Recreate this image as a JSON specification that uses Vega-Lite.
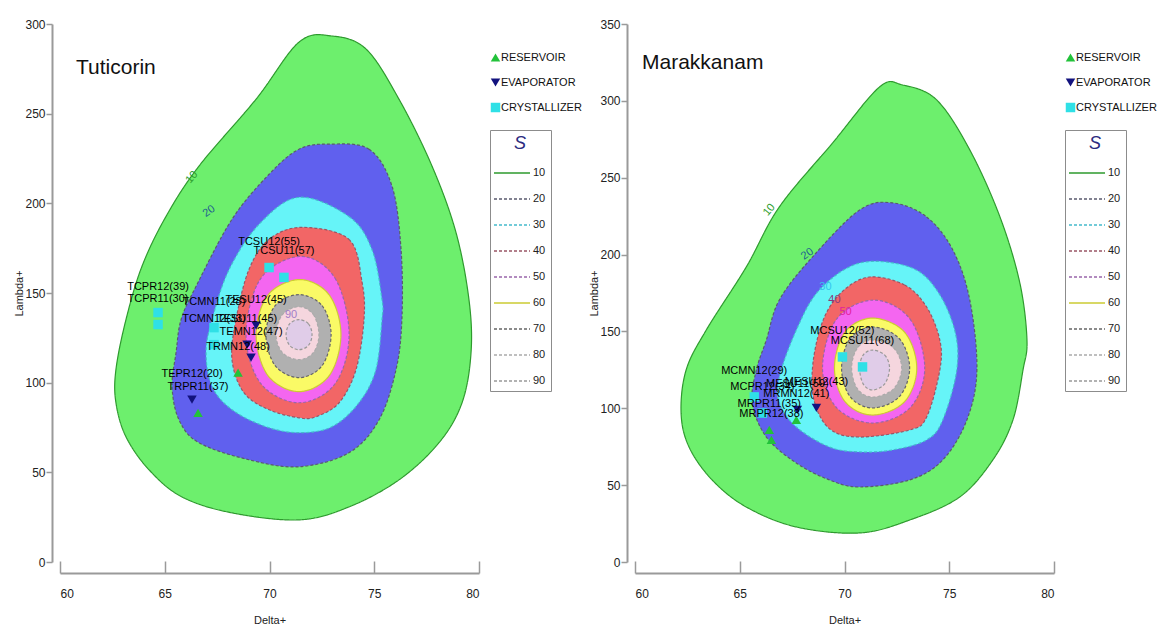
{
  "$schema": "https://vega.github.io/schema/vega-lite/v6.json",
  "padding": {"left": 13, "top": 18, "right": 0, "bottom": 0},
  "background": "white",
  "bounds": "flush",
  "spacing": 156,
  "resolve": {"scale": {"stroke": "independent", "strokeDash": "independent", "fill": "independent", "shape": "independent", "color": "independent"}},
  "config": {
    "view": {"stroke": null},
    "font": "Liberation Sans, Arial, sans-serif",
    "axis": {
      "grid": false,
      "domainColor": "#9a9a9a",
      "tickColor": "#9a9a9a",
      "domainWidth": 2,
      "tickWidth": 1.5,
      "labelFontSize": 12,
      "labelColor": "#222222",
      "titleFontSize": 11,
      "titleFontWeight": "normal",
      "titleColor": "#222222"
    },
    "legend": {"labelFont": "Liberation Sans, Arial, sans-serif"}
  },
  "datasets": {
    "tc": [
      {"level":10,"i":0,"x":72.98,"y":293.3},{"level":10,"i":1,"x":74.61,"y":286},{"level":10,"i":2,"x":76.18,"y":258.1},{"level":10,"i":3,"x":77.76,"y":220.7},{"level":10,"i":4,"x":78.90,"y":183.8},{"level":10,"i":5,"x":79.52,"y":146.4},{"level":10,"i":6,"x":79.62,"y":116.8},{"level":10,"i":7,"x":79.19,"y":88.8},{"level":10,"i":8,"x":78.09,"y":66.5},{"level":10,"i":9,"x":76.18,"y":45.8},{"level":10,"i":10,"x":73.79,"y":30.7},{"level":10,"i":11,"x":71.41,"y":23.5},{"level":10,"i":12,"x":68.21,"y":27.4},{"level":10,"i":13,"x":65.82,"y":36.3},{"level":10,"i":14,"x":64.25,"y":51.4},{"level":10,"i":15,"x":63.15,"y":69.8},{"level":10,"i":16,"x":62.67,"y":88.8},{"level":10,"i":17,"x":62.67,"y":107.3},{"level":10,"i":18,"x":63.15,"y":135.2},{"level":10,"i":19,"x":63.91,"y":164.8},{"level":10,"i":20,"x":65.06,"y":192.7},{"level":10,"i":21,"x":66.63,"y":220.7},{"level":10,"i":22,"x":69.36,"y":258.1},{"level":10,"i":23,"x":71.41,"y":289.9},
      {"level":20,"i":0,"x":72.84,"y":233.0},{"level":20,"i":1,"x":74.75,"y":230.2},{"level":20,"i":2,"x":75.85,"y":209.5},{"level":20,"i":3,"x":76.28,"y":174.3},{"level":20,"i":4,"x":76.32,"y":135.2},{"level":20,"i":5,"x":76.04,"y":107.3},{"level":20,"i":6,"x":75.23,"y":79.3},{"level":20,"i":7,"x":73.79,"y":60.9},{"level":20,"i":8,"x":71.41,"y":53.1},{"level":20,"i":9,"x":69.02,"y":57.0},{"level":20,"i":10,"x":66.63,"y":66.5},{"level":20,"i":11,"x":65.68,"y":79.3},{"level":20,"i":12,"x":65.35,"y":97.8},{"level":20,"i":13,"x":65.54,"y":116.8},{"level":20,"i":14,"x":65.78,"y":135.2},{"level":20,"i":15,"x":66.49,"y":153.6},{"level":20,"i":16,"x":68.21,"y":191.1},{"level":20,"i":17,"x":69.98,"y":216.2},{"level":20,"i":18,"x":71.41,"y":230.2},
      {"level":30,"i":0,"x":71.41,"y":203.4},{"level":30,"i":1,"x":73.79,"y":192.7},{"level":30,"i":2,"x":74.89,"y":174.3},{"level":30,"i":3,"x":75.37,"y":146.4},{"level":30,"i":4,"x":75.37,"y":135.2},{"level":30,"i":5,"x":75.08,"y":107.3},{"level":30,"i":6,"x":74.27,"y":88.8},{"level":30,"i":7,"x":72.98,"y":75.4},{"level":30,"i":8,"x":71.41,"y":72.1},{"level":30,"i":9,"x":69.83,"y":75.4},{"level":30,"i":10,"x":68.21,"y":84.9},{"level":30,"i":11,"x":67.26,"y":97.8},{"level":30,"i":12,"x":66.97,"y":116.8},{"level":30,"i":13,"x":67.26,"y":135.2},{"level":30,"i":14,"x":68.07,"y":163.1},{"level":30,"i":15,"x":69.50,"y":188.3},
      {"level":40,"i":0,"x":71.55,"y":186.6},{"level":40,"i":1,"x":73.79,"y":179.9},{"level":40,"i":2,"x":74.42,"y":155.9},{"level":40,"i":3,"x":74.51,"y":135.2},{"level":40,"i":4,"x":74.13,"y":107.3},{"level":40,"i":5,"x":73.32,"y":88.8},{"level":40,"i":6,"x":72.22,"y":81.0},{"level":40,"i":7,"x":71.41,"y":80.4},{"level":40,"i":8,"x":69.98,"y":84.9},{"level":40,"i":9,"x":68.78,"y":94.4},{"level":40,"i":10,"x":68.21,"y":112.8},{"level":40,"i":11,"x":68.40,"y":135.2},{"level":40,"i":12,"x":69.02,"y":163.1},{"level":40,"i":13,"x":69.98,"y":179.9},
      {"level":50,"i":0,"x":71.5,"y":170.4},{"level":50,"i":1,"x":73.13,"y":158.2},{"level":50,"i":2,"x":73.80,"y":126.8},{"level":50,"i":3,"x":73.13,"y":99.4},{"level":50,"i":4,"x":71.41,"y":88.8},{"level":50,"i":5,"x":69.59,"y":99.4},{"level":50,"i":6,"x":68.88,"y":126.8},{"level":50,"i":7,"x":69.59,"y":158.2},
      {"level":60,"i":0,"x":71.45,"y":157.5},{"level":60,"i":1,"x":72.85,"y":148.9},{"level":60,"i":2,"x":73.41,"y":126.8},{"level":60,"i":3,"x":72.85,"y":103.9},{"level":60,"i":4,"x":71.41,"y":95.0},{"level":60,"i":5,"x":69.93,"y":103.9},{"level":60,"i":6,"x":69.36,"y":126.8},{"level":60,"i":7,"x":69.93,"y":148.9},
      {"level":70,"i":0,"x":71.41,"y":149.1},{"level":70,"i":1,"x":72.51,"y":142.9},{"level":70,"i":2,"x":72.94,"y":126.8},{"level":70,"i":3,"x":72.51,"y":109.5},{"level":70,"i":4,"x":71.41,"y":102.8},{"level":70,"i":5,"x":70.27,"y":109.5},{"level":70,"i":6,"x":69.83,"y":126.8},{"level":70,"i":7,"x":70.27,"y":142.9},
      {"level":80,"i":0,"x":71.41,"y":142.4},{"level":80,"i":1,"x":72.09,"y":138.0},{"level":80,"i":2,"x":72.36,"y":126.8},{"level":80,"i":3,"x":72.09,"y":116.7},{"level":80,"i":4,"x":71.41,"y":112.8},{"level":80,"i":5,"x":70.62,"y":116.7},{"level":80,"i":6,"x":70.31,"y":126.8},{"level":80,"i":7,"x":70.62,"y":138.0},
      {"level":90,"i":0,"x":71.41,"y":135.2},{"level":90,"i":1,"x":71.86,"y":132.8},{"level":90,"i":2,"x":72.03,"y":126.8},{"level":90,"i":3,"x":71.86,"y":120.8},{"level":90,"i":4,"x":71.41,"y":118.4},{"level":90,"i":5,"x":70.96,"y":120.8},{"level":90,"i":6,"x":70.79,"y":126.8},{"level":90,"i":7,"x":70.96,"y":132.8}
    ],
    "mc": [
      {"level":10,"i":0,"x":72.78,"y":310.3},{"level":10,"i":1,"x":74.40,"y":300.6},{"level":10,"i":2,"x":75.98,"y":268.1},{"level":10,"i":3,"x":77.42,"y":224.5},{"level":10,"i":4,"x":78.37,"y":181.5},{"level":10,"i":5,"x":78.71,"y":144.4},{"level":10,"i":6,"x":78.52,"y":124.9},{"level":10,"i":7,"x":78.04,"y":92.4},{"level":10,"i":8,"x":77.08,"y":66.4},{"level":10,"i":9,"x":75.50,"y":42.3},{"level":10,"i":10,"x":73.11,"y":27.3},{"level":10,"i":11,"x":70.72,"y":18.9},{"level":10,"i":12,"x":67.70,"y":22.8},{"level":10,"i":13,"x":65.31,"y":35.8},{"level":10,"i":14,"x":63.68,"y":53.4},{"level":10,"i":15,"x":62.58,"y":74.8},{"level":10,"i":16,"x":62.20,"y":96.9},{"level":10,"i":17,"x":62.44,"y":124.9},{"level":10,"i":18,"x":63.40,"y":150.9},{"level":10,"i":19,"x":65.31,"y":191.9},{"level":10,"i":20,"x":66.89,"y":231.0},{"level":10,"i":21,"x":69.43,"y":272.6},{"level":10,"i":22,"x":71.67,"y":309.0},
      {"level":20,"i":0,"x":72.30,"y":233.6},{"level":20,"i":1,"x":73.92,"y":224.5},{"level":20,"i":2,"x":75.17,"y":203.0},{"level":20,"i":3,"x":75.98,"y":170.5},{"level":20,"i":4,"x":76.32,"y":124.9},{"level":20,"i":5,"x":75.84,"y":92.4},{"level":20,"i":6,"x":74.69,"y":66.4},{"level":20,"i":7,"x":73.11,"y":53.4},{"level":20,"i":8,"x":70.72,"y":48.8},{"level":20,"i":9,"x":69.28,"y":53.4},{"level":20,"i":10,"x":67.70,"y":64.4},{"level":20,"i":11,"x":66.27,"y":81.3},{"level":20,"i":12,"x":65.60,"y":103.4},{"level":20,"i":13,"x":65.79,"y":124.9},{"level":20,"i":14,"x":66.27,"y":144.4},{"level":20,"i":15,"x":66.89,"y":170.5},{"level":20,"i":16,"x":68.47,"y":198.4},{"level":20,"i":17,"x":70.72,"y":229.0},
      {"level":30,"i":0,"x":70.72,"y":194.5},{"level":30,"i":1,"x":73.11,"y":191.9},{"level":30,"i":2,"x":74.40,"y":177.0},{"level":30,"i":3,"x":75.26,"y":150.9},{"level":30,"i":4,"x":75.36,"y":124.9},{"level":30,"i":5,"x":74.69,"y":92.4},{"level":30,"i":6,"x":73.92,"y":79.4},{"level":30,"i":7,"x":72.30,"y":72.9},{"level":30,"i":8,"x":70.72,"y":71.6},{"level":30,"i":9,"x":69.28,"y":74.8},{"level":30,"i":10,"x":67.70,"y":87.8},{"level":30,"i":11,"x":66.89,"y":103.4},{"level":30,"i":12,"x":66.89,"y":120.4},{"level":30,"i":13,"x":67.70,"y":150.9},{"level":30,"i":14,"x":68.80,"y":177.0},
      {"level":40,"i":0,"x":71.20,"y":185.4},{"level":40,"i":1,"x":72.87,"y":180.2},{"level":40,"i":2,"x":73.92,"y":165.9},{"level":40,"i":3,"x":74.55,"y":144.4},{"level":40,"i":4,"x":74.55,"y":124.9},{"level":40,"i":5,"x":73.92,"y":94.3},{"level":40,"i":6,"x":73.11,"y":85.9},{"level":40,"i":7,"x":70.72,"y":81.3},{"level":40,"i":8,"x":69.3,"y":86.5},{"level":40,"i":9,"x":68.55,"y":105},{"level":40,"i":10,"x":68.5,"y":130},{"level":40,"i":11,"x":69.0,"y":158},{"level":40,"i":12,"x":69.9,"y":176},
      {"level":50,"i":0,"x":71.4,"y":170.4},{"level":50,"i":1,"x":73.13,"y":158.0},{"level":50,"i":2,"x":73.83,"y":126.2},{"level":50,"i":3,"x":73.13,"y":100.4},{"level":50,"i":4,"x":71.34,"y":90.4},{"level":50,"i":5,"x":69.62,"y":100.4},{"level":50,"i":6,"x":68.95,"y":126.2},{"level":50,"i":7,"x":69.62,"y":158.0},
      {"level":60,"i":0,"x":71.34,"y":158.7},{"level":60,"i":1,"x":72.86,"y":149.6},{"level":60,"i":2,"x":73.45,"y":126.2},{"level":60,"i":3,"x":72.86,"y":104.2},{"level":60,"i":4,"x":71.34,"y":95.6},{"level":60,"i":5,"x":70.03,"y":104.2},{"level":60,"i":6,"x":69.52,"y":126.2},{"level":60,"i":7,"x":70.03,"y":149.6},
      {"level":70,"i":0,"x":71.34,"y":152.9},{"level":70,"i":1,"x":72.61,"y":145.4},{"level":70,"i":2,"x":73.11,"y":126.2},{"level":70,"i":3,"x":72.61,"y":107.5},{"level":70,"i":4,"x":71.34,"y":100.2},{"level":70,"i":5,"x":70.27,"y":107.5},{"level":70,"i":6,"x":69.86,"y":126.2},{"level":70,"i":7,"x":70.27,"y":145.4},
      {"level":80,"i":0,"x":71.34,"y":144.4},{"level":80,"i":1,"x":72.34,"y":139.3},{"level":80,"i":2,"x":72.73,"y":126.2},{"level":80,"i":3,"x":72.34,"y":112.6},{"level":80,"i":4,"x":71.34,"y":107.3},{"level":80,"i":5,"x":70.62,"y":112.6},{"level":80,"i":6,"x":70.34,"y":126.2},{"level":80,"i":7,"x":70.62,"y":139.3},
      {"level":90,"i":0,"x":71.34,"y":137.9},{"level":90,"i":1,"x":71.92,"y":134.6},{"level":90,"i":2,"x":72.15,"y":126.2},{"level":90,"i":3,"x":71.92,"y":115.9},{"level":90,"i":4,"x":71.34,"y":111.9},{"level":90,"i":5,"x":70.89,"y":115.9},{"level":90,"i":6,"x":70.72,"y":126.2},{"level":90,"i":7,"x":70.89,"y":134.6}
    ],
    "tl": [
      {"lv":10,"t":"10","x":66.30,"y":214.5},{"lv":20,"t":"20","x":67.11,"y":195.5},{"lv":90,"t":"90","x":71.03,"y":138.0}
    ],
    "ml": [
      {"lv":10,"t":"10","x":66.41,"y":229.0},{"lv":20,"t":"20","x":68.23,"y":200.4},{"lv":30,"t":"30","x":69.09,"y":178.9},{"lv":40,"t":"40","x":69.52,"y":170.5},{"lv":50,"t":"50","x":70.05,"y":162.7}
    ],
    "tp": [
      {"type":"CRYSTALLIZER","label":"TCPR12(39)","x":64.68,"y":139.1},
      {"type":"CRYSTALLIZER","label":"TCPR11(30)","x":64.68,"y":132.4},
      {"type":"CRYSTALLIZER","label":"TCMN11(28)","x":67.35,"y":130.7},
      {"type":"CRYSTALLIZER","label":"TCMN12(33)","x":67.35,"y":121.2},
      {"type":"CRYSTALLIZER","label":"TCSU12(55)","x":69.98,"y":164.2},
      {"type":"CRYSTALLIZER","label":"TCSU11(57)","x":70.69,"y":158.7},
      {"type":"EVAPORATOR","label":"TEPR12(20)","x":66.30,"y":90.5},
      {"type":"EVAPORATOR","label":"TESU12(45)","x":69.36,"y":131.8},
      {"type":"EVAPORATOR","label":"TESU11(45)","x":68.93,"y":121.2},
      {"type":"EVAPORATOR","label":"TEMN12(47)","x":69.12,"y":114.0},
      {"type":"RESERVOIR","label":"TRPR11(37)","x":66.59,"y":83.2},
      {"type":"RESERVOIR","label":"TRMN12(48)","x":68.50,"y":105.6}
    ],
    "mp": [
      {"type":"CRYSTALLIZER","label":"MCMN12(29)","x":65.69,"y":107.4},
      {"type":"CRYSTALLIZER","label":"MCPR12(34)","x":66.08,"y":96.9},
      {"type":"CRYSTALLIZER","label":"MCSU12(52)","x":69.90,"y":133.4},
      {"type":"CRYSTALLIZER","label":"MCSU11(68)","x":70.86,"y":126.9},
      {"type":"EVAPORATOR","label":"MESU12(43)","x":68.66,"y":100.2},
      {"type":"EVAPORATOR","label":"MESU11(59)","x":67.75,"y":98.9},
      {"type":"RESERVOIR","label":"MRPR11(35)","x":66.41,"y":85.9},
      {"type":"RESERVOIR","label":"MRMN12(41)","x":67.70,"y":92.4},
      {"type":"RESERVOIR","label":"MRPR12(38)","x":66.51,"y":79.4}
    ]
  },
  "hconcat": [
    {
      "width": 419,
      "height": 538,
      "title": {"text": "Tuticorin", "anchor": "start", "frame": "group", "orient": "top", "offset": 0, "dx": 16, "dy": 60, "fontSize": 21, "fontWeight": "normal", "color": "#111111"},
      "layer": [
        {
          "data": {"name": "tc"},
          "mark": {"type": "line", "interpolate": "cardinal-closed", "strokeWidth": 1.2},
          "encoding": {
            "x": {"field": "x", "type": "quantitative", "scale": {"domain": [60, 80], "nice": false, "zero": false},
                  "axis": {"title": "Delta+", "values": [60, 65, 70, 75, 80], "offset": 11, "tickSize": -12, "labelPadding": 27, "titlePadding": 15}},
            "y": {"field": "y", "type": "quantitative", "scale": {"domain": [0, 300], "nice": false, "zero": false},
                  "axis": {"title": "Lambda+", "values": [0, 50, 100, 150, 200, 250, 300], "offset": 8, "tickSize": 6, "labelPadding": 1, "titlePadding": 0}},
            "order": {"field": "i", "type": "quantitative"},
            "stroke": {"field": "level", "type": "nominal",
                       "scale": {"domain": [10, 20, 30, 40, 50, 60, 70, 80, 90], "range": ["#2e9a2e", "#5a5a6e", "#44bbcc", "#995566", "#9966aa", "#cccc33", "#666666", "#aaaaaa", "#999999"]},
                       "legend": {"title": "S", "orient": "none", "legendX": 430, "legendY": 106, "titleAnchor": "middle", "titleFontStyle": "italic", "titleFontSize": 18, "titleFontWeight": "normal", "titleColor": "#2b2b80", "titlePadding": 13, "strokeColor": "#8c8c8c", "fillColor": "#ffffff", "padding": 5, "symbolType": "M-1,0H5", "symbolSize": 144, "symbolStrokeWidth": 1.5, "symbolOffset": -2, "labelOffset": 26, "labelFontSize": 11, "labelColor": "#222222", "rowPadding": 14}},
            "strokeDash": {"field": "level", "type": "nominal",
                       "scale": {"domain": [10, 20, 30, 40, 50, 60, 70, 80, 90], "range": [[1, 0], [3, 2], [3, 2], [3, 2], [3, 2], [1, 0], [3, 2], [3, 2], [3, 2]]},
                       "legend": {"title": "S", "orient": "none", "legendX": 430, "legendY": 106, "titleAnchor": "middle", "titleFontStyle": "italic", "titleFontSize": 18, "titleFontWeight": "normal", "titleColor": "#2b2b80", "titlePadding": 13, "strokeColor": "#8c8c8c", "fillColor": "#ffffff", "padding": 5, "symbolType": "M-1,0H5", "symbolSize": 144, "symbolStrokeWidth": 1.5, "symbolOffset": -2, "labelOffset": 26, "labelFontSize": 11, "labelColor": "#222222", "rowPadding": 14}},
            "fill": {"field": "level", "type": "nominal",
                     "scale": {"domain": [90, 80, 70, 60, 50, 40, 30, 20, 10], "range": ["#e0cce8", "#f5d6de", "#b0b0b0", "#fafa66", "#f466f0", "#f26666", "#66f4f8", "#6060ee", "#6def6d"]},
                     "legend": null}
          }
        },
        {
          "data": {"name": "tl"}, "transform": [{"filter": "datum.lv == 10"}],
          "mark": {"type": "text", "fontSize": 11, "color": "#2f9e2f", "angle": 310},
          "encoding": {"x": {"field": "x", "type": "quantitative"}, "y": {"field": "y", "type": "quantitative"}, "text": {"field": "t"}}
        },
        {
          "data": {"name": "tl"}, "transform": [{"filter": "datum.lv == 20"}],
          "mark": {"type": "text", "fontSize": 11, "color": "#1f5f8f", "angle": 325},
          "encoding": {"x": {"field": "x", "type": "quantitative"}, "y": {"field": "y", "type": "quantitative"}, "text": {"field": "t"}}
        },
        {
          "data": {"name": "tl"}, "transform": [{"filter": "datum.lv == 90"}],
          "mark": {"type": "text", "fontSize": 11, "color": "#a27cc8"},
          "encoding": {"x": {"field": "x", "type": "quantitative"}, "y": {"field": "y", "type": "quantitative"}, "text": {"field": "t"}}
        },
        {
          "data": {"name": "tp"},
          "mark": {"type": "point", "filled": true, "size": 90, "opacity": 1},
          "encoding": {
            "x": {"field": "x", "type": "quantitative"},
            "y": {"field": "y", "type": "quantitative"},
            "shape": {"field": "type", "type": "nominal", "scale": {"domain": ["RESERVOIR", "EVAPORATOR", "CRYSTALLIZER"], "range": ["triangle-up", "triangle-down", "square"]},
                      "legend": {"title": null, "orient": "none", "legendX": 430, "legendY": 28, "padding": 0, "symbolSize": 90, "labelOffset": 0, "labelFontSize": 11, "labelColor": "#111111", "rowPadding": 13}},
            "color": {"field": "type", "type": "nominal", "scale": {"domain": ["RESERVOIR", "EVAPORATOR", "CRYSTALLIZER"], "range": ["#22c23a", "#12127e", "#2fe0e6"]},
                      "legend": {"title": null, "orient": "none", "legendX": 430, "legendY": 28, "padding": 0, "symbolSize": 90, "labelOffset": 0, "labelFontSize": 11, "labelColor": "#111111", "rowPadding": 13}}
          }
        },
        {
          "data": {"name": "tp"},
          "mark": {"type": "text", "dy": -26, "fontSize": 11, "color": "#000000"},
          "encoding": {
            "x": {"field": "x", "type": "quantitative"},
            "y": {"field": "y", "type": "quantitative"},
            "text": {"field": "label"}
          }
        }
      ]
    },
    {
      "width": 419,
      "height": 538,
      "title": {"text": "Marakkanam", "anchor": "start", "frame": "group", "orient": "top", "offset": 0, "dx": 7, "dy": 55, "fontSize": 21, "fontWeight": "normal", "color": "#111111"},
      "layer": [
        {
          "data": {"name": "mc"},
          "mark": {"type": "line", "interpolate": "cardinal-closed", "strokeWidth": 1.2},
          "encoding": {
            "x": {"field": "x", "type": "quantitative", "scale": {"domain": [60, 80], "nice": false, "zero": false},
                  "axis": {"title": "Delta+", "values": [60, 65, 70, 75, 80], "offset": 11, "tickSize": -12, "labelPadding": 27, "titlePadding": 15}},
            "y": {"field": "y", "type": "quantitative", "scale": {"domain": [0, 350], "nice": false, "zero": false},
                  "axis": {"title": "Lambda+", "values": [0, 50, 100, 150, 200, 250, 300, 350], "offset": 8, "tickSize": 6, "labelPadding": 1, "titlePadding": 0}},
            "order": {"field": "i", "type": "quantitative"},
            "stroke": {"field": "level", "type": "nominal",
                       "scale": {"domain": [10, 20, 30, 40, 50, 60, 70, 80, 90], "range": ["#2e9a2e", "#5a5a6e", "#44bbcc", "#995566", "#9966aa", "#cccc33", "#666666", "#aaaaaa", "#999999"]},
                       "legend": {"title": "S", "orient": "none", "legendX": 430, "legendY": 106, "titleAnchor": "middle", "titleFontStyle": "italic", "titleFontSize": 18, "titleFontWeight": "normal", "titleColor": "#2b2b80", "titlePadding": 13, "strokeColor": "#8c8c8c", "fillColor": "#ffffff", "padding": 5, "symbolType": "M-1,0H5", "symbolSize": 144, "symbolStrokeWidth": 1.5, "symbolOffset": -2, "labelOffset": 26, "labelFontSize": 11, "labelColor": "#222222", "rowPadding": 14}},
            "strokeDash": {"field": "level", "type": "nominal",
                       "scale": {"domain": [10, 20, 30, 40, 50, 60, 70, 80, 90], "range": [[1, 0], [3, 2], [3, 2], [3, 2], [3, 2], [1, 0], [3, 2], [3, 2], [3, 2]]},
                       "legend": {"title": "S", "orient": "none", "legendX": 430, "legendY": 106, "titleAnchor": "middle", "titleFontStyle": "italic", "titleFontSize": 18, "titleFontWeight": "normal", "titleColor": "#2b2b80", "titlePadding": 13, "strokeColor": "#8c8c8c", "fillColor": "#ffffff", "padding": 5, "symbolType": "M-1,0H5", "symbolSize": 144, "symbolStrokeWidth": 1.5, "symbolOffset": -2, "labelOffset": 26, "labelFontSize": 11, "labelColor": "#222222", "rowPadding": 14}},
            "fill": {"field": "level", "type": "nominal",
                     "scale": {"domain": [90, 80, 70, 60, 50, 40, 30, 20, 10], "range": ["#e0cce8", "#f5d6de", "#b0b0b0", "#fafa66", "#f466f0", "#f26666", "#66f4f8", "#6060ee", "#6def6d"]},
                     "legend": null}
          }
        },
        {
          "data": {"name": "ml"}, "transform": [{"filter": "datum.lv == 10"}],
          "mark": {"type": "text", "fontSize": 11, "color": "#2f9e2f", "angle": 310},
          "encoding": {"x": {"field": "x", "type": "quantitative"}, "y": {"field": "y", "type": "quantitative"}, "text": {"field": "t"}}
        },
        {
          "data": {"name": "ml"}, "transform": [{"filter": "datum.lv == 20"}],
          "mark": {"type": "text", "fontSize": 11, "color": "#1f5f8f", "angle": 325},
          "encoding": {"x": {"field": "x", "type": "quantitative"}, "y": {"field": "y", "type": "quantitative"}, "text": {"field": "t"}}
        },
        {
          "data": {"name": "ml"}, "transform": [{"filter": "datum.lv == 30"}],
          "mark": {"type": "text", "fontSize": 11, "color": "#33c4ee"},
          "encoding": {"x": {"field": "x", "type": "quantitative"}, "y": {"field": "y", "type": "quantitative"}, "text": {"field": "t"}}
        },
        {
          "data": {"name": "ml"}, "transform": [{"filter": "datum.lv == 40"}],
          "mark": {"type": "text", "fontSize": 11, "color": "#8a3a7a"},
          "encoding": {"x": {"field": "x", "type": "quantitative"}, "y": {"field": "y", "type": "quantitative"}, "text": {"field": "t"}}
        },
        {
          "data": {"name": "ml"}, "transform": [{"filter": "datum.lv == 50"}],
          "mark": {"type": "text", "fontSize": 11, "color": "#e0209e"},
          "encoding": {"x": {"field": "x", "type": "quantitative"}, "y": {"field": "y", "type": "quantitative"}, "text": {"field": "t"}}
        },
        {
          "data": {"name": "mp"},
          "mark": {"type": "point", "filled": true, "size": 90, "opacity": 1},
          "encoding": {
            "x": {"field": "x", "type": "quantitative"},
            "y": {"field": "y", "type": "quantitative"},
            "shape": {"field": "type", "type": "nominal", "scale": {"domain": ["RESERVOIR", "EVAPORATOR", "CRYSTALLIZER"], "range": ["triangle-up", "triangle-down", "square"]},
                      "legend": {"title": null, "orient": "none", "legendX": 430, "legendY": 28, "padding": 0, "symbolSize": 90, "labelOffset": 0, "labelFontSize": 11, "labelColor": "#111111", "rowPadding": 13}},
            "color": {"field": "type", "type": "nominal", "scale": {"domain": ["RESERVOIR", "EVAPORATOR", "CRYSTALLIZER"], "range": ["#22c23a", "#12127e", "#2fe0e6"]},
                      "legend": {"title": null, "orient": "none", "legendX": 430, "legendY": 28, "padding": 0, "symbolSize": 90, "labelOffset": 0, "labelFontSize": 11, "labelColor": "#111111", "rowPadding": 13}}
          }
        },
        {
          "data": {"name": "mp"},
          "mark": {"type": "text", "dy": -26, "fontSize": 11, "color": "#000000"},
          "encoding": {
            "x": {"field": "x", "type": "quantitative"},
            "y": {"field": "y", "type": "quantitative"},
            "text": {"field": "label"}
          }
        }
      ]
    }
  ]
}
